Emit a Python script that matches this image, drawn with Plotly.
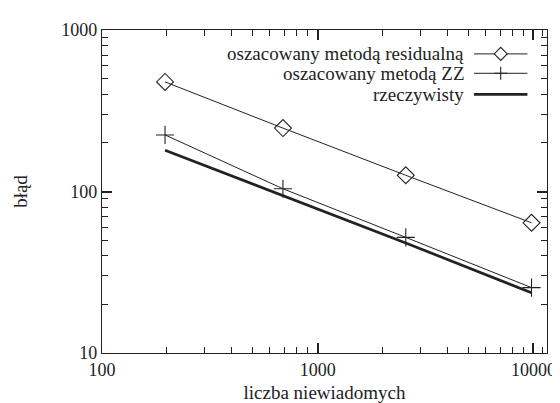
import plotly.graph_objects as go

# data
unknowns = [196, 690, 2560, 9800]
err_residual = [477, 247, 126, 64]
err_zz = [224, 104, 52, 25.4]
err_actual = [180, 94, 48, 23.6]

names = ["oszacowany metodą residualną", "oszacowany metodą ZZ", "rzeczywisty"]
x_ticks = [100, 1000, 10000]
y_ticks = [10, 100, 1000]
x_minor = [m * d for d in (100, 1000) for m in range(2, 10)] + [11000]
y_minor = [m * d for d in (10, 100) for m in range(2, 10)]

INK = "#222222"
FONT = "Liberation Serif"

marker_res = dict(symbol="diamond-open", size=13, color=INK, line=dict(width=1.1, color=INK))
marker_zz = dict(symbol="cross-thin-open", size=13, color=INK, line=dict(width=1.1, color=INK))
thin = dict(color=INK, width=1)
thick = dict(color=INK, width=2.7)

fig = go.Figure()
fig.add_trace(go.Scatter(x=unknowns, y=err_residual, mode="lines+markers", line=thin,
                         marker=marker_res, name=names[0], showlegend=False))
fig.add_trace(go.Scatter(x=unknowns, y=err_zz, mode="lines+markers", line=thin,
                         marker=marker_zz, name=names[1], showlegend=False))
fig.add_trace(go.Scatter(x=unknowns, y=err_actual, mode="lines", line=thick,
                         name=names[2], showlegend=False))

# custom legend: text on the left, sample on the right
leg_y = [0.926, 0.866, 0.801]
leg_x0, leg_x1 = 0.836, 0.956
leg_xm = (leg_x0 + leg_x1) / 2
leg_lines = [thin, thin, thick]
glyphs = ["M-6.5,0L0,-6.5L6.5,0L0,6.5Z", "M-6.5,0L6.5,0M0,-6.5L0,6.5", None]
for name, yy, ln, gl in zip(names, leg_y, leg_lines, glyphs):
    fig.add_shape(type="line", xref="paper", yref="paper", x0=leg_x0, x1=leg_x1,
                  y0=yy, y1=yy, line=ln)
    if gl is not None:
        fig.add_shape(type="path", xref="paper", yref="paper", xsizemode="pixel",
                      ysizemode="pixel", xanchor=leg_xm, yanchor=yy, path=gl,
                      fillcolor="white", line=dict(color=INK, width=1.1))
    fig.add_annotation(x=0.819, y=yy, xref="paper", yref="paper", text=name,
                       showarrow=False, xanchor="right", yanchor="middle",
                       font=dict(family=FONT, size=19, color=INK))

axis_common = dict(type="log", showgrid=False, zeroline=False, showline=True,
                   linecolor=INK, linewidth=1.3, mirror="allticks",
                   ticks="inside", ticklen=10, tickwidth=1.5, tickcolor=INK,
                   tickmode="array",
                   tickfont=dict(family=FONT, size=18, color=INK))
minor_common = dict(tickmode="array", ticks="inside", ticklen=6, tickwidth=1.3,
                    tickcolor=INK, showgrid=False)

fig.update_layout(
    width=560, height=403,
    margin=dict(l=90, r=12, t=17, b=50),
    paper_bgcolor="white", plot_bgcolor="white",
    xaxis=dict(axis_common, range=[2, 4.063], tickvals=x_ticks,
               ticktext=[str(v) for v in x_ticks],
               minor=dict(minor_common, tickvals=x_minor),
               title=dict(text="liczba niewiadomych", font=dict(family=FONT, size=19, color=INK), standoff=6)),
    yaxis=dict(axis_common, range=[1, 3], tickvals=y_ticks,
               ticktext=[str(v) for v in y_ticks],
               minor=dict(minor_common, tickvals=y_minor),
               title=dict(text="błąd", font=dict(family=FONT, size=19, color=INK), standoff=28)),
)

fig.write_html("out.html")
